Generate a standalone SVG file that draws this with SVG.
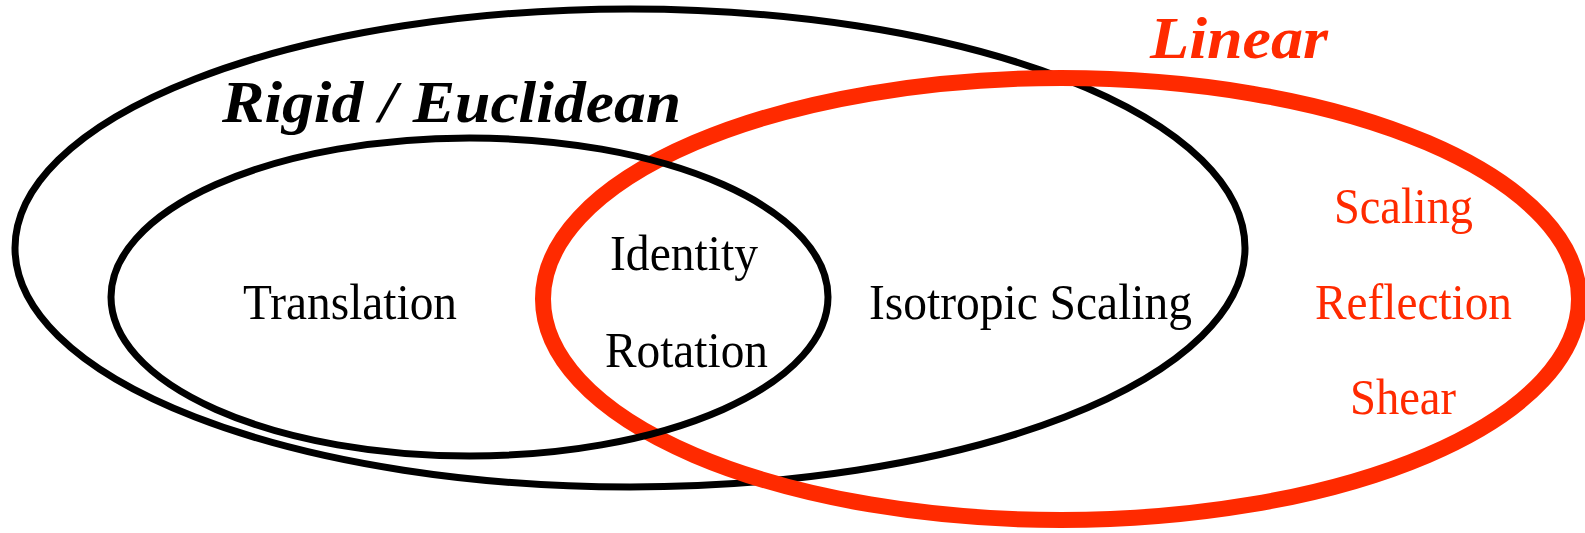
<svg xmlns="http://www.w3.org/2000/svg" width="1585" height="533" viewBox="0 0 1585 533">
<style>
.blk{fill:none;stroke:#000;stroke-width:7}
.red{fill:none;stroke:#ff2a00;stroke-width:16}
.t{font-family:"Liberation Serif","Times New Roman",serif;font-size:51px;text-anchor:middle}
.r{fill:#ff2a00}
.title{font-family:"Liberation Serif","Times New Roman",serif;font-size:60px;font-weight:bold;font-style:italic}
</style>
<rect width="1585" height="533" fill="#fff"/>
<g id="rigid">
<ellipse class="blk" cx="630" cy="248" rx="615" ry="239"/>
<text class="title" x="222" y="122" textLength="459" lengthAdjust="spacingAndGlyphs">Rigid / Euclidean</text>
</g>
<g id="linear">
<ellipse class="red" cx="1061" cy="299" rx="518" ry="221"/>
<text class="title r" x="1150" y="58" textLength="178" lengthAdjust="spacingAndGlyphs">Linear</text>
</g>
<g id="euclidean-inner">
<ellipse class="blk" cx="469.5" cy="297" rx="358.5" ry="159"/>
</g>
<g id="labels">
<text class="t" x="350" y="319" textLength="214" lengthAdjust="spacingAndGlyphs">Translation</text>
<text class="t" x="684" y="270" textLength="148" lengthAdjust="spacingAndGlyphs">Identity</text>
<text class="t" x="686.5" y="367" textLength="163" lengthAdjust="spacingAndGlyphs">Rotation</text>
<text class="t" x="1030.5" y="319" textLength="323" lengthAdjust="spacingAndGlyphs">Isotropic Scaling</text>
<text class="t r" x="1403.5" y="223" textLength="139" lengthAdjust="spacingAndGlyphs">Scaling</text>
<text class="t r" x="1413.5" y="319" textLength="197" lengthAdjust="spacingAndGlyphs">Reflection</text>
<text class="t r" x="1403" y="414" textLength="106" lengthAdjust="spacingAndGlyphs">Shear</text>
</g>
<g id="connectors"></g>
</svg>
